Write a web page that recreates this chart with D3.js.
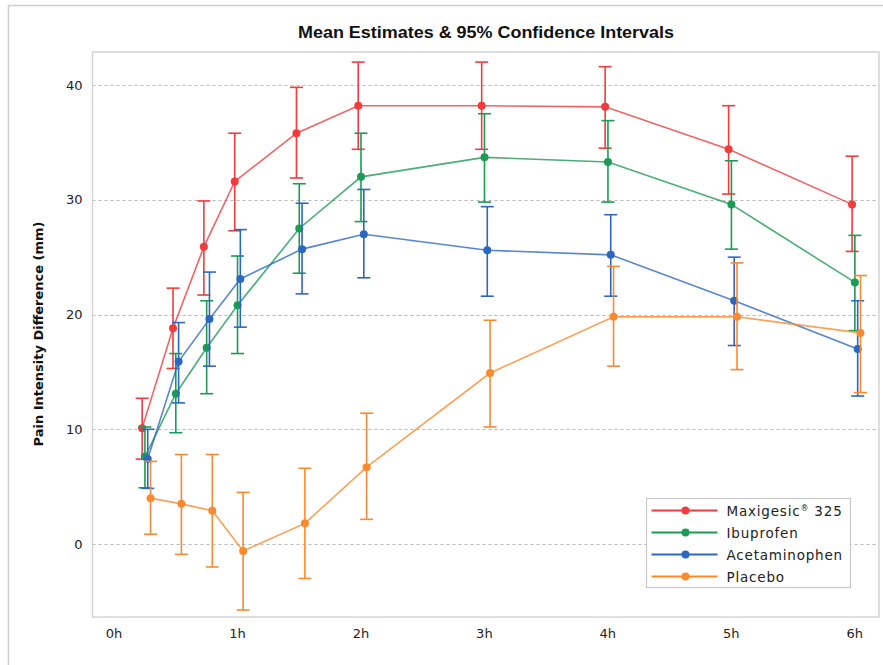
<!DOCTYPE html>
<html lang="en">
<head>
  <meta charset="UTF-8">
  <title>Mean Estimates & 95% Confidence Intervals</title>
  <style>
    body {
      margin: 0;
      background: #fff;
      font-family: "DejaVu Sans", sans-serif;
    }
    svg { display: block; }
  </style>
</head>
<body>
  <div id="chart"></div>

  <script src="https://d3js.org/d3.v7.min.js"></script>
  <script>
    // Time points in hours
    const times = [0.25, 0.5, 0.75, 1, 1.5, 2, 3, 4, 5, 6];
    const hourTicks = [0, 1, 2, 3, 4, 5, 6];
    const yTicks = [0, 10, 20, 30, 40];

    const seriesNames = ['Maxigesic® 325', 'Ibuprofen', 'Acetaminophen', 'Placebo'];
    const seriesColors = ['#f03c3c', '#1d9a55', '#2c68c0', '#fb8a2e'];

    // mean, lower and upper 95% CI per series
    const maxiMean  = [10.1, 18.8, 25.9, 31.6, 35.8, 38.2, 38.2, 38.1, 34.4, 29.6];
    const maxiLow   = [7.4, 15.3, 21.7, 27.3, 31.9, 34.4, 34.4, 34.5, 30.5, 25.5];
    const maxiHigh  = [12.7, 22.3, 29.9, 35.8, 39.8, 42.0, 42.0, 41.6, 38.2, 33.8];

    const ibuMean   = [7.6, 13.1, 17.1, 20.8, 27.5, 32.0, 33.7, 33.3, 29.6, 22.8];
    const ibuLow    = [4.9, 9.7, 13.1, 16.6, 23.6, 28.1, 29.8, 29.8, 25.7, 18.6];
    const ibuHigh   = [10.2, 16.6, 21.2, 25.1, 31.4, 35.8, 37.5, 36.9, 33.4, 26.9];

    const acetMean  = [7.4, 15.9, 19.6, 23.1, 25.7, 27.0, 25.6, 25.2, 21.2, 17.0];
    const acetLow   = [4.85, 12.3, 15.5, 18.9, 21.8, 23.2, 21.6, 21.6, 17.3, 12.9];
    const acetHigh  = [10.0, 19.3, 23.7, 27.4, 29.7, 30.9, 29.4, 28.7, 25.0, 21.2];

    const placMean  = [4.0, 3.5, 2.9, -0.6, 1.8, 6.7, 14.9, 19.8, 19.8, 18.4];
    const placLow   = [0.85, -0.9, -2.0, -5.75, -3.0, 2.15, 10.2, 15.5, 15.2, 13.2];
    const placHigh  = [7.2, 7.8, 7.8, 4.5, 6.6, 11.4, 19.5, 24.2, 24.5, 23.4];

    const series = [
      { name: seriesNames[0], color: seriesColors[0], mean: maxiMean, low: maxiLow, high: maxiHigh },
      { name: seriesNames[1], color: seriesColors[1], mean: ibuMean, low: ibuLow, high: ibuHigh },
      { name: seriesNames[2], color: seriesColors[2], mean: acetMean, low: acetLow, high: acetHigh },
      { name: seriesNames[3], color: seriesColors[3], mean: placMean, low: placLow, high: placHigh }
    ];

    const width = 883;
    const height = 665;
    const plot = { left: 92.5, right: 879, top: 52, bottom: 617 };
    const dodge = 2.8; // px shift between series at the same time point

    const svg = d3.select('#chart')
      .append('svg')
      .attr('width', width)
      .attr('height', height);

    // outer frame of the figure
    svg.append('rect')
      .attr('x', 8.5)
      .attr('y', 5.5)
      .attr('width', 900)
      .attr('height', 700)
      .attr('fill', '#fff')
      .attr('stroke', '#cfcfcf')
      .attr('stroke-width', 1.5);

    const x = d3.scaleLinear()
      .domain([-0.186, 6.184])
      .range([plot.left, plot.right]);

    const y = d3.scaleLinear()
      .domain([-6.36, 42.88])
      .range([plot.bottom, plot.top]);

    // title
    svg.append('text')
      .attr('x', 486)
      .attr('y', 38)
      .attr('text-anchor', 'middle')
      .attr('textLength', 376)
      .attr('lengthAdjust', 'spacingAndGlyphs')
      .style('font-family', '"Liberation Sans", sans-serif')
      .style('font-weight', 'bold')
      .style('font-size', '16.5px')
      .attr('fill', '#111')
      .text('Mean Estimates & 95% Confidence Intervals');

    // grid lines
    svg.append('g')
      .selectAll('line')
      .data(yTicks)
      .join('line')
      .attr('x1', plot.left)
      .attr('x2', plot.right)
      .attr('y1', (d) => Math.round(y(d)) + 0.5)
      .attr('y2', (d) => Math.round(y(d)) + 0.5)
      .attr('stroke', '#b8b8b8')
      .attr('stroke-dasharray', '3,3');

    // plot frame
    svg.append('rect')
      .attr('x', plot.left)
      .attr('y', plot.top)
      .attr('width', plot.right - plot.left)
      .attr('height', plot.bottom - plot.top)
      .attr('fill', 'none')
      .attr('stroke', '#d4d4d4')
      .attr('stroke-width', 1.5);

    // y axis labels
    const yAxis = svg.append('g')
      .attr('transform', `translate(${plot.left - 10}, 0)`)
      .call(d3.axisLeft(y).tickValues(yTicks).tickSize(0).tickPadding(0));
    yAxis.select('.domain').remove();
    yAxis.selectAll('text')
      .style('font-family', '"DejaVu Sans", sans-serif')
      .style('font-size', '13px')
      .attr('fill', '#222');

    // x axis labels
    const xAxis = svg.append('g')
      .attr('transform', `translate(-2, ${plot.bottom + 12})`)
      .call(d3.axisBottom(x).tickValues(hourTicks).tickSize(0).tickPadding(0)
        .tickFormat((d) => d + 'h'));
    xAxis.select('.domain').remove();
    xAxis.selectAll('text')
      .style('font-family', '"DejaVu Sans", sans-serif')
      .style('font-size', '13px')
      .attr('fill', '#222');

    // y axis title
    svg.append('text')
      .attr('transform', 'rotate(-90)')
      .attr('x', -334)
      .attr('y', 43)
      .attr('text-anchor', 'middle')
      .style('font-family', '"DejaVu Sans", sans-serif')
      .style('font-weight', 'bold')
      .style('font-size', '13px')
      .attr('fill', '#111')
      .text('Pain Intensity Difference (mm)');

    // series
    const cap = 6.5;
    series.forEach((s, i) => {
      const off = (i - 1.5) * dodge;
      const px = (j) => x(times[j]) + off;
      const g = svg.append('g');
      const pts = times.map((t, j) => j);

      g.selectAll('line.bar')
        .data(pts)
        .join('line')
        .attr('x1', px).attr('x2', px)
        .attr('y1', (j) => y(s.low[j]))
        .attr('y2', (j) => y(s.high[j]))
        .attr('stroke', s.color)
        .attr('stroke-width', 1.6);

      ['low', 'high'].forEach((k) => {
        g.selectAll('line.cap-' + k)
          .data(pts)
          .join('line')
          .attr('class', 'cap-' + k)
          .attr('x1', (j) => px(j) - cap)
          .attr('x2', (j) => px(j) + cap)
          .attr('y1', (j) => y(s[k][j]))
          .attr('y2', (j) => y(s[k][j]))
          .attr('stroke', s.color)
          .attr('stroke-width', 1.6);
      });

      const line = d3.line()
        .x(px)
        .y((j) => y(s.mean[j]));

      g.append('path')
        .datum(pts)
        .attr('fill', 'none')
        .attr('stroke', s.color)
        .attr('stroke-opacity', 0.8)
        .attr('stroke-width', 1.6)
        .attr('d', line);

      g.selectAll('circle')
        .data(pts)
        .join('circle')
        .attr('cx', px)
        .attr('cy', (j) => y(s.mean[j]))
        .attr('r', 4)
        .attr('fill', s.color);
    });

    // legend
    const legend = svg.append('g').attr('transform', 'translate(646.5, 498.5)');
    legend.append('rect')
      .attr('width', 204)
      .attr('height', 89)
      .attr('fill', '#fff')
      .attr('stroke', '#c8c8c8')
      .attr('stroke-width', 1.2);

    const rows = legend.selectAll('g.row')
      .data(series)
      .join('g')
      .attr('class', 'row')
      .attr('transform', (d, i) => `translate(0, ${12 + i * 22})`);

    rows.append('line')
      .attr('x1', 5).attr('x2', 71)
      .attr('stroke', (d) => d.color)
      .attr('stroke-width', 1.8);
    rows.append('circle')
      .attr('cx', 39)
      .attr('r', 4)
      .attr('fill', (d) => d.color);
    rows.append('text')
      .attr('x', 80)
      .attr('y', 5)
      .style('font-family', '"DejaVu Sans", sans-serif')
      .style('font-size', '13.5px')
      .style('letter-spacing', '0.8px')
      .attr('fill', '#222')
      .each(function (d) {
        const t = d3.select(this);
        if (d.name.includes('®')) {
          const parts = d.name.split('®');
          t.append('tspan').text(parts[0]);
          t.append('tspan').attr('dy', -5).style('font-size', '8px').text('®');
          t.append('tspan').attr('dy', 5).text(parts[1]);
        } else {
          t.text(d.name);
        }
      });
  </script>
</body>
</html>
